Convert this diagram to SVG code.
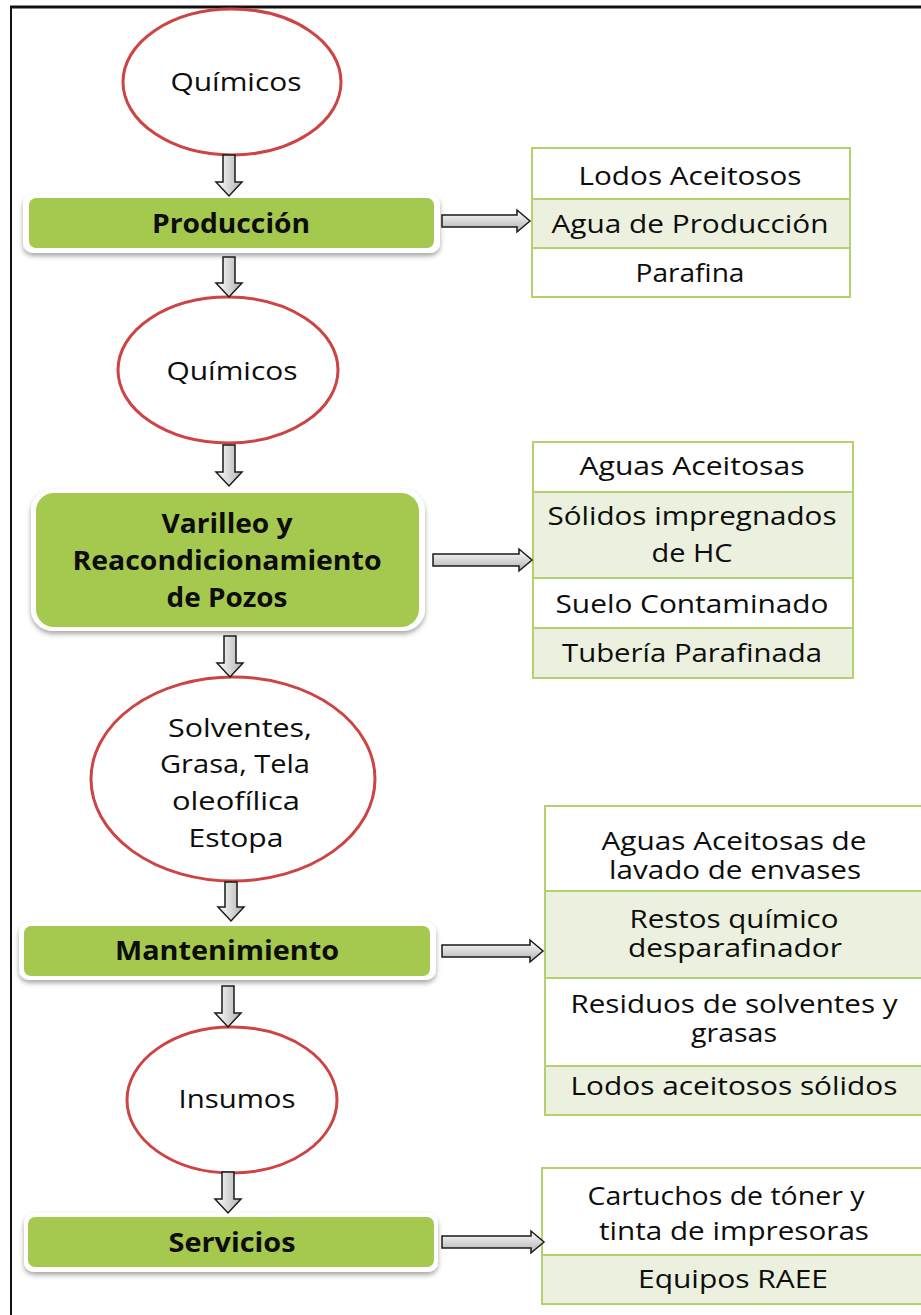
<svg xmlns="http://www.w3.org/2000/svg" width="921" height="1315" viewBox="0 0 921 1315">
<style>
.t{font-family:"Open Sans","Liberation Sans",sans-serif;font-size:25px;fill:#0d0d0d;text-anchor:middle}
.b{font-family:"Open Sans","Liberation Sans",sans-serif;font-size:26px;font-weight:bold;fill:#0d0d0d;text-anchor:middle}
.ell{fill:#fff;stroke:#cc4444;stroke-width:3}
.glow{fill:#fff;filter:url(#sh)}
.green{fill:#a5c84f}
.cellw{fill:#fff;stroke:#b3d16f;stroke-width:2}
.cellg{fill:#ebf1de;stroke:#b3d16f;stroke-width:2}
.arr{fill:url(#gv);stroke:#1a1a1a;stroke-width:1.5;stroke-linejoin:miter}
.arrh{fill:url(#gh);stroke:#1a1a1a;stroke-width:1.5;stroke-linejoin:miter}
</style>
<defs>
<linearGradient id="gv" x1="0" y1="0" x2="1" y2="0">
<stop offset="0" stop-color="#ffffff"/><stop offset="1" stop-color="#b0b0b0"/>
</linearGradient>
<linearGradient id="gh" x1="0" y1="0" x2="0" y2="1">
<stop offset="0" stop-color="#ffffff"/><stop offset="1" stop-color="#b0b0b0"/>
</linearGradient>
<filter id="sh" x="-5%" y="-20%" width="110%" height="150%">
<feDropShadow dx="0" dy="3" stdDeviation="2.5" flood-color="#000" flood-opacity="0.35"/>
</filter>
</defs>
<rect width="921" height="1315" fill="#fff"/>
<g id="frame" fill="none" stroke="#111">
<line x1="10" y1="7" x2="921" y2="7" stroke-width="3"/>
<line x1="11" y1="6" x2="11" y2="1315" stroke-width="2"/>
</g>

<g id="quimicos1"><ellipse class="ell" cx="232" cy="82" rx="109" ry="73"/><text class="t" x="236" y="91" textLength="131" lengthAdjust="spacingAndGlyphs">Químicos</text></g>
<g id="produccion"><rect class="glow" x="23" y="194" width="417" height="59" rx="10"/><rect class="green" x="29" y="198" width="405" height="50" rx="7"/><text class="b" x="231" y="233" textLength="158" lengthAdjust="spacingAndGlyphs">Producción</text></g>
<g id="quimicos2"><ellipse class="ell" cx="228" cy="370" rx="110" ry="73"/><text class="t" x="232" y="380" textLength="131" lengthAdjust="spacingAndGlyphs">Químicos</text></g>
<g id="varilleo"><rect class="glow" x="31" y="489" width="394" height="142" rx="22"/><rect class="green" x="36" y="493" width="383" height="134" rx="18"/>
<text class="b" x="227" y="533" textLength="131" lengthAdjust="spacingAndGlyphs">Varilleo y</text>
<text class="b" x="227" y="570" textLength="309" lengthAdjust="spacingAndGlyphs">Reacondicionamiento</text>
<text class="b" x="227" y="607" textLength="121" lengthAdjust="spacingAndGlyphs">de Pozos</text></g>
<g id="solventes"><ellipse class="ell" cx="233" cy="779" rx="142" ry="102"/>
<text class="t" x="240" y="737" textLength="144" lengthAdjust="spacingAndGlyphs">Solventes,</text>
<text class="t" x="235" y="773" textLength="150" lengthAdjust="spacingAndGlyphs">Grasa, Tela</text>
<text class="t" x="236" y="810" textLength="128" lengthAdjust="spacingAndGlyphs">oleofílica</text>
<text class="t" x="236" y="847" textLength="95" lengthAdjust="spacingAndGlyphs">Estopa</text></g>
<g id="mantenimiento"><rect class="glow" x="19" y="922" width="417" height="58" rx="10"/><rect class="green" x="24" y="926" width="406" height="50" rx="7"/><text class="b" x="227" y="960" textLength="224" lengthAdjust="spacingAndGlyphs">Mantenimiento</text></g>
<g id="insumos"><ellipse class="ell" cx="232" cy="1100" rx="105" ry="73"/><text class="t" x="237" y="1108" textLength="117" lengthAdjust="spacingAndGlyphs">Insumos</text></g>
<g id="servicios"><rect class="glow" x="24" y="1213" width="414" height="59" rx="10"/><rect class="green" x="28" y="1217" width="406" height="50" rx="7"/><text class="b" x="232" y="1252" textLength="127" lengthAdjust="spacingAndGlyphs">Servicios</text></g>

<g id="tabla1">
<rect class="cellw" x="532" y="148" width="318" height="51"/>
<rect class="cellg" x="532" y="199" width="318" height="49"/>
<rect class="cellw" x="532" y="248" width="318" height="49"/>
<text class="t" x="690" y="185" textLength="223" lengthAdjust="spacingAndGlyphs">Lodos Aceitosos</text>
<text class="t" x="690" y="233" textLength="277" lengthAdjust="spacingAndGlyphs">Agua de Producción</text>
<text class="t" x="690" y="282" textLength="109" lengthAdjust="spacingAndGlyphs">Parafina</text>
</g>
<g id="tabla2">
<rect class="cellw" x="533" y="442" width="320" height="50"/>
<rect class="cellg" x="533" y="492" width="320" height="86"/>
<rect class="cellw" x="533" y="578" width="320" height="50"/>
<rect class="cellg" x="533" y="628" width="320" height="50"/>
<text class="t" x="692" y="475" textLength="225" lengthAdjust="spacingAndGlyphs">Aguas Aceitosas</text>
<text class="t" x="692" y="525" textLength="289" lengthAdjust="spacingAndGlyphs">Sólidos impregnados</text>
<text class="t" x="692" y="562" textLength="81" lengthAdjust="spacingAndGlyphs">de HC</text>
<text class="t" x="692" y="613" textLength="273" lengthAdjust="spacingAndGlyphs">Suelo Contaminado</text>
<text class="t" x="692" y="662" textLength="260" lengthAdjust="spacingAndGlyphs">Tubería Parafinada</text>
</g>
<g id="tabla3">
<rect class="cellw" x="545" y="806" width="385" height="85"/>
<rect class="cellg" x="545" y="891" width="385" height="87"/>
<rect class="cellw" x="545" y="978" width="385" height="88"/>
<rect class="cellg" x="545" y="1066" width="385" height="49"/>
<text class="t" x="734" y="850" textLength="265" lengthAdjust="spacingAndGlyphs">Aguas Aceitosas de</text>
<text class="t" x="735" y="879" textLength="252" lengthAdjust="spacingAndGlyphs">lavado de envases</text>
<text class="t" x="734" y="928" textLength="209" lengthAdjust="spacingAndGlyphs">Restos químico</text>
<text class="t" x="735" y="957" textLength="214" lengthAdjust="spacingAndGlyphs">desparafinador</text>
<text class="t" x="734" y="1013" textLength="327" lengthAdjust="spacingAndGlyphs">Residuos de solventes y</text>
<text class="t" x="734" y="1042" textLength="86" lengthAdjust="spacingAndGlyphs">grasas</text>
<text class="t" x="734" y="1095" textLength="327" lengthAdjust="spacingAndGlyphs">Lodos aceitosos sólidos</text>
</g>
<g id="tabla4">
<rect class="cellw" x="542" y="1168" width="388" height="87"/>
<rect class="cellg" x="542" y="1255" width="388" height="49"/>
<text class="t" x="726" y="1205" textLength="277" lengthAdjust="spacingAndGlyphs">Cartuchos de tóner y</text>
<text class="t" x="734" y="1240" textLength="270" lengthAdjust="spacingAndGlyphs">tinta de impresoras</text>
<text class="t" x="733" y="1288" textLength="190" lengthAdjust="spacingAndGlyphs">Equipos RAEE</text>
</g>

<g id="connectors">
<path class="arr" d="M223,155 H235 V182 H242 L229,196 L216,182 H223 Z"/>
<path class="arr" d="M223,257 H235 V283 H242 L229,297 L216,283 H223 Z"/>
<path class="arr" d="M223,445 H235 V472 H242 L229,486 L216,472 H223 Z"/>
<path class="arr" d="M224,636 H236 V663 H243 L230,677 L217,663 H224 Z"/>
<path class="arr" d="M225,882 H237 V907 H244 L231,921 L218,907 H225 Z"/>
<path class="arr" d="M222,986 H234 V1013 H241 L228,1027 L215,1013 H222 Z"/>
<path class="arr" d="M222,1172 H234 V1199 H241 L228,1213 L215,1199 H222 Z"/>
<path class="arrh" d="M442,215 H517 V210 L530,221 L517,232 V227 H442 Z"/>
<path class="arrh" d="M433,554 H519 V549 L532,560 L519,571 V566 H433 Z"/>
<path class="arrh" d="M442,945 H530 V940 L543,951 L530,962 V957 H442 Z"/>
<path class="arrh" d="M442,1236 H531 V1231 L544,1242 L531,1253 V1248 H442 Z"/>
</g>
</svg>
